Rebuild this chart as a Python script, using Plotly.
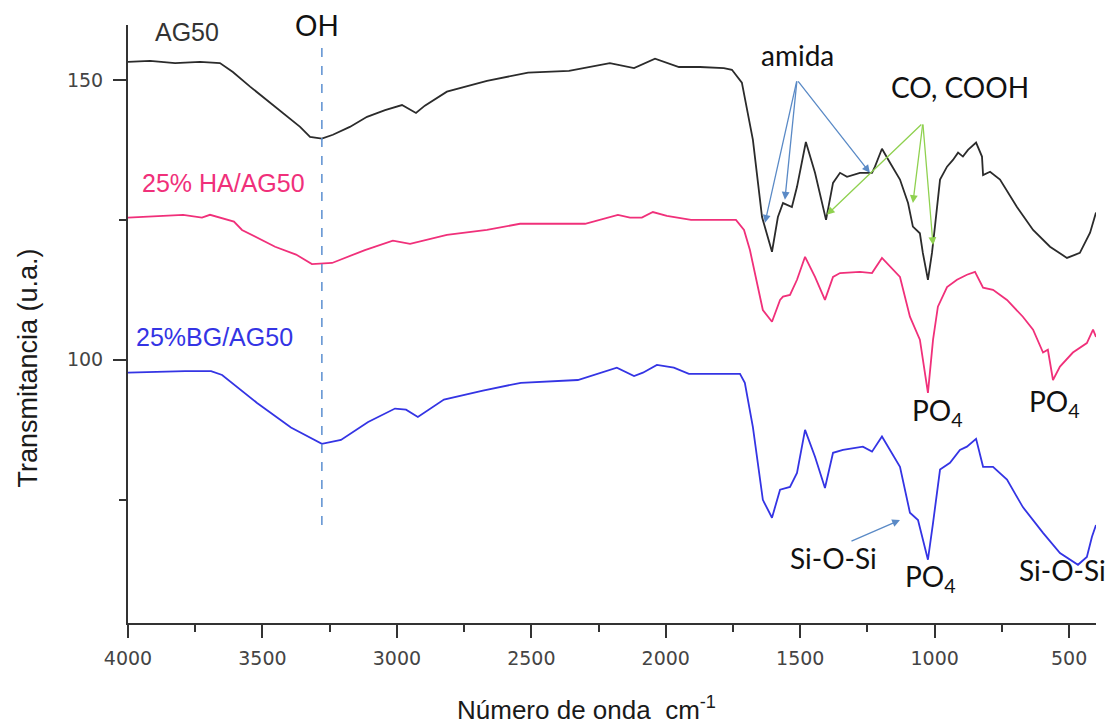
import plotly.graph_objects as go

# ---------------- data ----------------
wn_ag50 = [4000, 3918, 3825, 3732, 3658, 3610, 3546, 3483, 3424, 3360, 3323, 3279, 3238, 3175,
           3111, 3044, 2981, 2929, 2896, 2814, 2665, 2512, 2360, 2208, 2118, 2040, 1951, 1873,
           1784, 1754, 1717, 1676, 1642, 1605, 1583, 1564, 1531, 1512, 1479, 1445, 1404, 1378,
           1352, 1326, 1278, 1233, 1222, 1196, 1166, 1129, 1099, 1081, 1055, 1044, 1025, 1010,
           999, 980, 954, 932, 913, 895, 876, 846, 824, 820, 794, 757, 694, 634, 571, 508, 460,
           422, 400]
t_ag50 = [153.2, 153.4, 153.0, 153.2, 153.0, 151.4, 148.8, 146.4, 144.1, 141.6, 139.8, 139.5,
          140.2, 141.6, 143.4, 144.6, 145.5, 144.1, 145.4, 147.9, 149.8, 151.3, 151.6, 153.0,
          152.1, 153.8, 152.3, 152.3, 152.1, 151.8, 149.5, 139.3, 125.5, 119.3, 125.5, 128.0,
          127.3, 130.9, 138.9, 133.4, 125.0, 131.6, 133.4, 132.7, 133.4, 133.4, 134.5, 137.7,
          135.2, 132.2, 128.0, 123.8, 122.6, 119.1, 114.3, 119.1, 123.8, 132.2, 134.5, 135.7,
          137.0, 136.3, 137.5, 138.8, 136.3, 133.0, 133.6, 132.2, 127.3, 123.2, 120.2, 118.2,
          119.1, 122.7, 126.3]

wn_ha = [4000, 3795, 3725, 3695, 3606, 3576, 3453, 3375, 3316, 3241, 3119, 3015, 2951, 2814,
         2665, 2542, 2300, 2178, 2133, 2089, 2048, 1996, 1906, 1739, 1709, 1687, 1639, 1605,
         1575, 1564, 1538, 1512, 1482, 1445, 1408, 1378, 1352, 1278, 1233, 1196, 1129, 1092,
         1055, 1025, 1006, 988, 954, 917, 880, 850, 820, 783, 731, 672, 634, 597, 579, 560,
         534, 486, 434, 411, 400]
t_ha = [125.4, 125.9, 125.4, 125.9, 124.7, 123.2, 120.2, 118.8, 117.1, 117.3, 119.6, 121.3,
        120.7, 122.3, 123.2, 124.3, 124.3, 125.9, 125.4, 125.4, 126.4, 125.7, 125.0, 125.0,
        123.2, 119.6, 108.9, 106.8, 110.7, 111.3, 111.6, 114.3, 118.4, 114.8, 110.7, 114.8,
        115.5, 115.7, 115.5, 118.2, 114.8, 107.7, 103.6, 94.1, 103.6, 109.5, 113.0, 114.3,
        115.2, 115.7, 112.9, 112.5, 110.7, 107.7, 105.4, 101.3, 101.8, 96.4, 98.8, 101.3,
        103.0, 105.4, 104.1]

wn_bg = [4000, 3892, 3788, 3691, 3650, 3520, 3394, 3279, 3208, 3107, 3007, 2966, 2922, 2825,
         2680, 2539, 2327, 2182, 2118, 2085, 2033, 1970, 1914, 1724, 1706, 1676, 1639, 1605,
         1575, 1538, 1512, 1482, 1445, 1408, 1378, 1341, 1267, 1233, 1196, 1129, 1092, 1062,
         1044, 1025, 1006, 980, 943, 906, 880, 846, 820, 783, 731, 672, 597, 534, 467, 434,
         415, 400]
t_bg = [97.7, 97.9, 98.0, 98.0, 97.3, 92.3, 87.9, 85.0, 85.7, 88.9, 91.3, 91.1, 89.8, 92.9,
        94.5, 95.9, 96.4, 98.6, 97.1, 97.7, 99.1, 98.6, 97.5, 97.5, 95.9, 88.0, 75.0, 71.8,
        76.8, 77.3, 79.8, 87.5, 82.7, 77.1, 83.4, 83.9, 84.5, 83.6, 86.3, 80.9, 72.7, 71.4,
        67.9, 64.3, 70.9, 80.4, 81.6, 83.9, 84.5, 85.9, 80.9, 80.9, 78.6, 73.7, 69.1, 65.5,
        63.4, 64.8, 68.4, 70.5]

x_ticks = [4000, 3500, 3000, 2500, 2000, 1500, 1000, 500]
y_ticks = [100, 150]

oh_wn = 3279

# ---------------- figure ----------------
fig = go.Figure()
fig.add_trace(go.Scatter(x=wn_ag50, y=t_ag50, mode="lines", name="AG50",
                         line=dict(color="#2b2b2b", width=1.8)))
fig.add_trace(go.Scatter(x=wn_ha, y=t_ha, mode="lines", name="25% HA/AG50",
                         line=dict(color="#f0307a", width=1.8)))
fig.add_trace(go.Scatter(x=wn_bg, y=t_bg, mode="lines", name="25%BG/AG50",
                         line=dict(color="#3434e4", width=1.8)))

fig.add_shape(type="line", xref="x", yref="y", x0=oh_wn, x1=oh_wn, y0=155.7, y1=69.6,
              line=dict(color="#5b8fd0", width=1.5, dash="dash"))

tick_font = dict(family="DejaVu Sans", size=19, color="#444444")
lab_font = dict(family="Lato", size=28, color="#111111")

fig.update_layout(
    width=1118, height=726,
    margin=dict(l=128, r=22, t=25, b=103),
    paper_bgcolor="white", plot_bgcolor="white",
    showlegend=False,
    xaxis=dict(range=[4000, 400], tickmode="array", tickvals=x_ticks,
               ticktext=[str(v) for v in x_ticks],
               showline=True, linecolor="#333333", linewidth=2,
               ticks="outside", ticklen=13, tickwidth=2, tickcolor="#333333",
               minor=dict(dtick=250, tick0=0, ticks="outside", ticklen=7, tickwidth=2,
                          tickcolor="#333333"),
               showgrid=False, zeroline=False, tickfont=tick_font, ticklabelstandoff=4),
    yaxis=dict(range=[53.0, 159.8], tickmode="array", tickvals=y_ticks,
               ticktext=[str(v) for v in y_ticks],
               showline=True, linecolor="#333333", linewidth=2,
               ticks="outside", ticklen=13, tickwidth=2, tickcolor="#333333",
               minor=dict(dtick=25, tick0=0, ticks="outside", ticklen=7, tickwidth=2,
                          tickcolor="#333333"),
               showgrid=False, zeroline=False, tickfont=tick_font, ticklabelstandoff=6),
)

ann = []
# axis titles
ann.append(dict(text="Transmitancia (u.a.)", xref="paper", yref="paper", x=-0.103, y=0.426,
                textangle=-90, showarrow=False, xanchor="center", yanchor="middle",
                font=dict(family="Liberation Sans", size=27, color="#1a1a1a")))
ann.append(dict(text="Número de onda  cm<sup>-1</sup>", xref="paper", yref="paper", x=0.474,
                y=-0.143, showarrow=False, xanchor="center", yanchor="middle",
                font=dict(family="Liberation Sans", size=26, color="#1a1a1a")))
# series labels
ann.append(dict(text="AG50", x=3907, y=158.6, xanchor="left", yanchor="middle", showarrow=False,
                font=dict(family="Liberation Sans", size=25, color="#333333")))
ann.append(dict(text="25% HA/AG50", x=3955, y=131.6, xanchor="left", yanchor="middle",
                showarrow=False, font=dict(family="Liberation Sans", size=25, color="#f0307a")))
ann.append(dict(text="25%BG/AG50", x=3978, y=104.1, xanchor="left", yanchor="middle",
                showarrow=False, font=dict(family="Liberation Sans", size=25, color="#3434e4")))
# band labels
labels = [("OH", 3297, 159.8), ("amida", 1512, 154.5), ("CO, COOH", 906, 148.8),
          ("PO<sub>4</sub>", 988, 90.7), ("PO<sub>4</sub>", 553, 92.3),
          ("PO<sub>4</sub>", 1017, 61.1), ("Si-O-Si", 1378, 64.6), ("Si-O-Si", 523, 62.5)]
for t, xx, yy in labels:
    ann.append(dict(text=t, x=xx, y=yy, xanchor="center", yanchor="middle", showarrow=False,
                    font=lab_font))
# arrows
arrows = [((1512, 150.0), (1631, 124.5), "#5a8ac6"),
          ((1512, 150.0), (1557, 128.6), "#5a8ac6"),
          ((1512, 150.0), (1241, 133.4), "#5a8ac6"),
          ((1044, 142.3), (1401, 125.9), "#8fd14f"),
          ((1044, 142.3), (1081, 128.0), "#8fd14f"),
          ((1044, 142.3), (1006, 120.5), "#8fd14f"),
          ((1315, 67.5), (1129, 71.4), "#5a8ac6")]
for (tx, ty), (hx, hy), c in arrows:
    ann.append(dict(text="", x=hx, y=hy, ax=tx, ay=ty, xref="x", yref="y", axref="x", ayref="y",
                    showarrow=True, arrowhead=2, arrowsize=1.2, arrowwidth=1.3, arrowcolor=c,
                    standoff=0, startstandoff=0))
fig.update_layout(annotations=ann)

fig.write_html("out.html")
